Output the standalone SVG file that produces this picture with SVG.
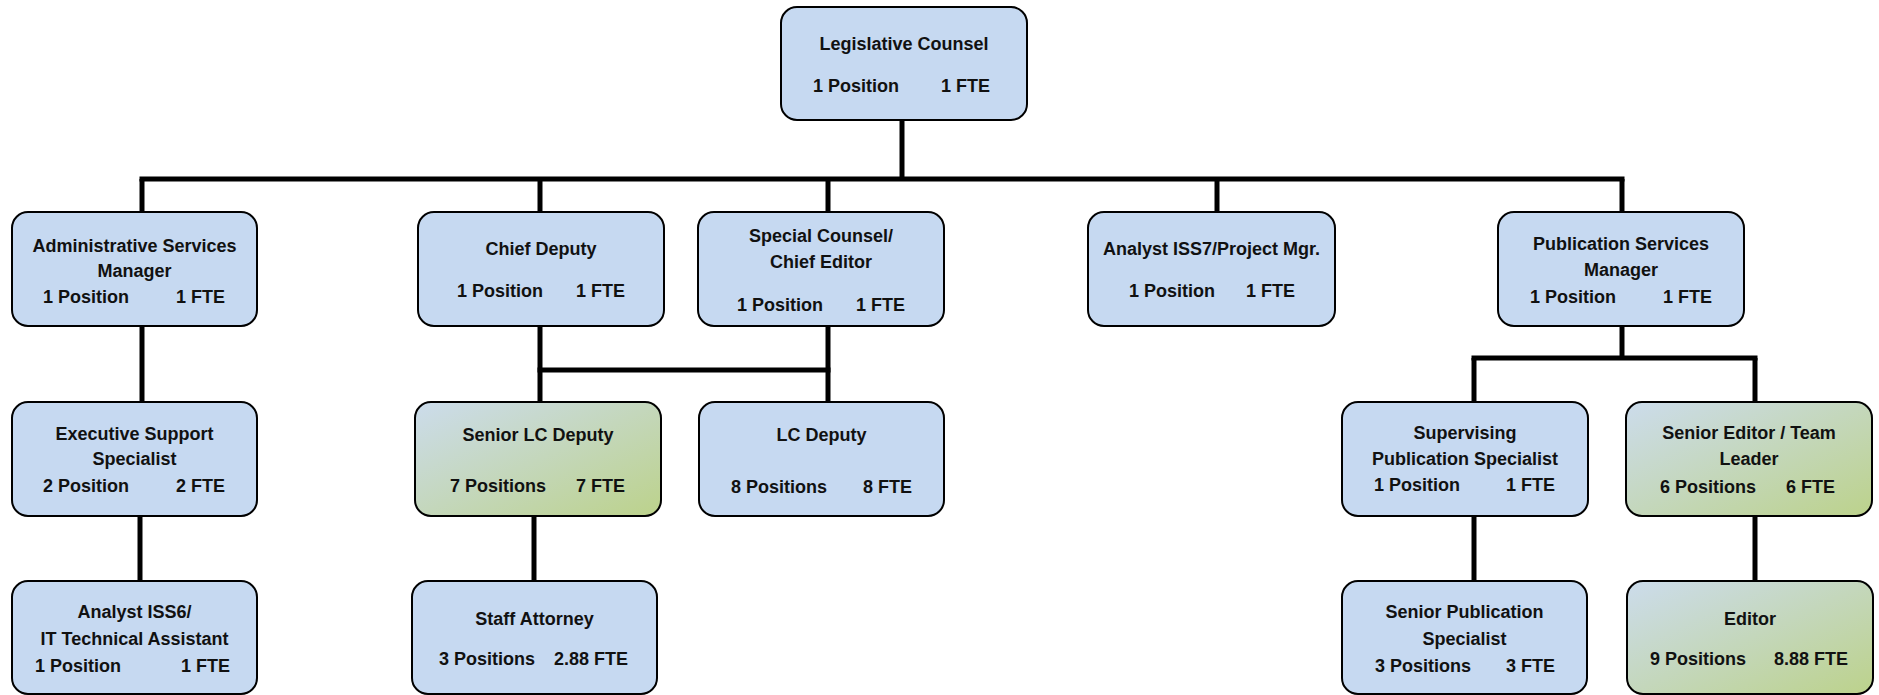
<svg xmlns="http://www.w3.org/2000/svg" width="1879" height="695" viewBox="0 0 1879 695">
<defs>
<linearGradient id="grn" x1="0" y1="0" x2="1" y2="1">
<stop offset="0" stop-color="#CCDCEC"/>
<stop offset="1" stop-color="#BCD28B"/>
</linearGradient>
</defs>
<style>
.box{fill:#C6D9F1;stroke:#000;stroke-width:2}
.g{fill:url(#grn)}
text{font-family:"Liberation Sans",Arial,sans-serif;font-weight:bold;font-size:18px;fill:#111}
.c{text-anchor:middle}
.e{text-anchor:end}
.conn{stroke:#000;stroke-width:5;fill:none;stroke-linecap:butt}
</style>
<rect width="1879" height="695" fill="#fff"/>
<g id="connectors" class="conn">
<path d="M902 120V179"/>
<path d="M139.5 179H1624.5"/>
<path d="M142 179V212"/>
<path d="M540 179V212"/>
<path d="M828 179V212"/>
<path d="M1217 179V212"/>
<path d="M1622 179V212"/>
<path d="M142 326V402"/>
<path d="M140 516V581"/>
<path d="M540 326V402"/>
<path d="M828 326V402"/>
<path d="M537.5 370H830.5"/>
<path d="M534 516V581"/>
<path d="M1622 326V358"/>
<path d="M1471.5 358H1757.5"/>
<path d="M1474 358V402"/>
<path d="M1755 358V402"/>
<path d="M1474 516V581"/>
<path d="M1755 516V581"/>
</g>
<g id="legislative-counsel">
<rect class="box" x="781" y="7" width="246" height="113" rx="16"/>
<text class="c" x="904" y="50">Legislative Counsel</text>
<text x="813" y="92">1 Position</text><text class="e" x="990" y="92">1 FTE</text>
</g>
<g id="admin-services-manager">
<rect class="box" x="12" y="212" width="245" height="114" rx="16"/>
<text class="c" x="134.5" y="252">Administrative Services</text>
<text class="c" x="134.5" y="277">Manager</text>
<text x="43" y="303">1 Position</text><text class="e" x="225" y="303">1 FTE</text>
</g>
<g id="executive-support-specialist">
<rect class="box" x="12" y="402" width="245" height="114" rx="16"/>
<text class="c" x="134.5" y="440">Executive Support</text>
<text class="c" x="134.5" y="465">Specialist</text>
<text x="43" y="492">2 Position</text><text class="e" x="225" y="492">2 FTE</text>
</g>
<g id="analyst-iss6">
<rect class="box" x="12" y="581" width="245" height="113" rx="16"/>
<text class="c" x="134.5" y="618">Analyst ISS6/</text>
<text class="c" x="134.5" y="645">IT Technical Assistant</text>
<text x="35" y="672">1 Position</text><text class="e" x="230" y="672">1 FTE</text>
</g>
<g id="chief-deputy">
<rect class="box" x="418" y="212" width="246" height="114" rx="16"/>
<text class="c" x="541" y="255">Chief Deputy</text>
<text x="457" y="297">1 Position</text><text class="e" x="625" y="297">1 FTE</text>
</g>
<g id="senior-lc-deputy">
<rect class="box g" x="415" y="402" width="246" height="114" rx="16"/>
<text class="c" x="538" y="441">Senior LC Deputy</text>
<text x="450" y="492">7 Positions</text><text class="e" x="625" y="492">7 FTE</text>
</g>
<g id="staff-attorney">
<rect class="box" x="412" y="581" width="245" height="113" rx="16"/>
<text class="c" x="534.5" y="625">Staff Attorney</text>
<text x="439" y="665">3 Positions</text><text class="e" x="628" y="665">2.88 FTE</text>
</g>
<g id="special-counsel">
<rect class="box" x="698" y="212" width="246" height="114" rx="16"/>
<text class="c" x="821" y="242">Special Counsel/</text>
<text class="c" x="821" y="268">Chief Editor</text>
<text x="737" y="311">1 Position</text><text class="e" x="905" y="311">1 FTE</text>
</g>
<g id="lc-deputy">
<rect class="box" x="699" y="402" width="245" height="114" rx="16"/>
<text class="c" x="821.5" y="441">LC Deputy</text>
<text x="731" y="493">8 Positions</text><text class="e" x="912" y="493">8 FTE</text>
</g>
<g id="analyst-iss7">
<rect class="box" x="1088" y="212" width="247" height="114" rx="16"/>
<text class="c" x="1211.5" y="255">Analyst ISS7/Project Mgr.</text>
<text x="1129" y="297">1 Position</text><text class="e" x="1295" y="297">1 FTE</text>
</g>
<g id="publication-services-manager">
<rect class="box" x="1498" y="212" width="246" height="114" rx="16"/>
<text class="c" x="1621" y="250">Publication Services</text>
<text class="c" x="1621" y="276">Manager</text>
<text x="1530" y="303">1 Position</text><text class="e" x="1712" y="303">1 FTE</text>
</g>
<g id="supervising-publication-specialist">
<rect class="box" x="1342" y="402" width="246" height="114" rx="16"/>
<text class="c" x="1465" y="439">Supervising</text>
<text class="c" x="1465" y="465">Publication Specialist</text>
<text x="1374" y="491">1 Position</text><text class="e" x="1555" y="491">1 FTE</text>
</g>
<g id="senior-editor-team-leader">
<rect class="box g" x="1626" y="402" width="246" height="114" rx="16"/>
<text class="c" x="1749" y="439">Senior Editor / Team</text>
<text class="c" x="1749" y="465">Leader</text>
<text x="1660" y="493">6 Positions</text><text class="e" x="1835" y="493">6 FTE</text>
</g>
<g id="senior-publication-specialist">
<rect class="box" x="1342" y="581" width="245" height="113" rx="16"/>
<text class="c" x="1464.5" y="618">Senior Publication</text>
<text class="c" x="1464.5" y="645">Specialist</text>
<text x="1375" y="672">3 Positions</text><text class="e" x="1555" y="672">3 FTE</text>
</g>
<g id="editor">
<rect class="box g" x="1627" y="581" width="246" height="113" rx="16"/>
<text class="c" x="1750" y="625">Editor</text>
<text x="1650" y="665">9 Positions</text><text class="e" x="1848" y="665">8.88 FTE</text>
</g>
</svg>
